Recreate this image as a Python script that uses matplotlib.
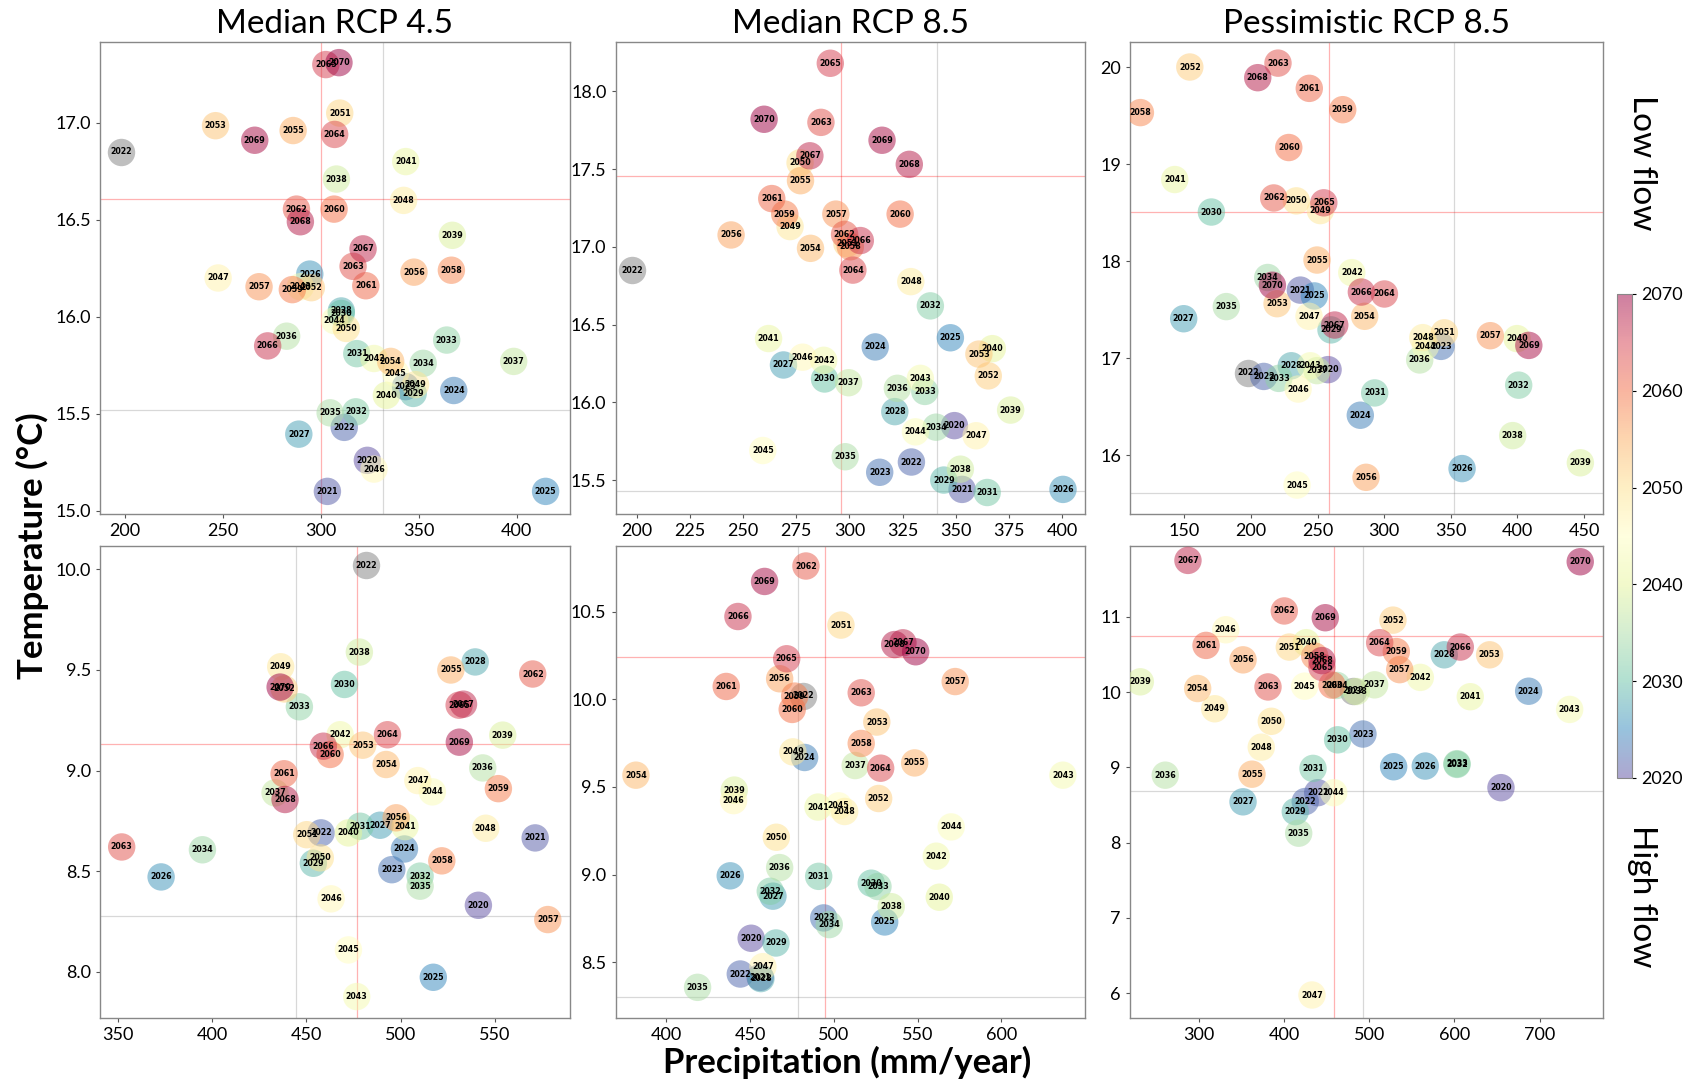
import matplotlib.pyplot as plt
from matplotlib.ticker import MultipleLocator

years = list(range(2020, 2071))

# observed year 2022 (grey point)
obs_low = (198.0, 16.85)
obs_high = (481.5, 10.02)

# ---- Median RCP 4.5, low flow
med45_low_prec = [323.8, 303.4, 312.0, 343.3, 367.9, 414.8, 294.4, 288.8, 310.5, 347.2,
                  310.5, 318.4, 317.9, 364.3, 352.3, 304.8, 282.6, 398.5, 308.0, 367.2,
                  333.5, 343.4, 327.2, 289.6, 307.1, 338.2, 327.2, 247.6, 342.3, 348.4,
                  313.0, 309.7, 295.2, 246.3, 335.7, 285.9, 347.6, 268.5, 366.7, 285.5,
                  306.8, 323.0, 287.6, 316.5, 307.1, 302.6, 272.9, 321.6, 289.6, 266.3, 309.3]
med45_low_temp = [15.26, 15.10, 15.43, 15.64, 15.62, 15.10, 16.22, 15.395, 16.03, 15.605,
                  16.017, 15.81, 15.51, 15.88, 15.76, 15.505, 15.90, 15.77, 16.71, 16.42,
                  15.595, 16.80, 15.785, 16.155, 15.98, 15.71, 15.215, 16.20, 16.60, 15.65,
                  15.94, 17.05, 16.15, 16.985, 15.77, 16.96, 16.23, 16.155, 16.24, 16.14,
                  16.555, 16.16, 16.555, 16.26, 16.94, 17.30, 15.85, 16.35, 16.49, 16.91, 17.31]

# ---- Median RCP 8.5, low flow
med85_low_prec = [349.3, 352.9, 329.1, 314.2, 312.1, 347.4, 400.3, 269.0, 321.3, 344.3,
                  288.3, 364.7, 338.0, 335.4, 340.7, 298.0, 322.5, 299.6, 352.1, 375.7,
                  367.1, 262.0, 287.9, 333.3, 331.0, 259.3, 278.0, 359.5, 328.8, 272.1,
                  276.8, 298.8, 365.2, 360.8, 281.7, 277.0, 244.4, 293.6, 300.4, 269.6,
                  323.8, 263.5, 297.7, 286.6, 301.6, 291.0, 305.1, 281.4, 328.1, 315.3, 259.9]
med85_low_temp = [15.85, 15.44, 15.616, 15.55, 16.356, 16.415, 15.44, 16.24, 15.94, 15.50,
                  16.15, 15.42, 16.62, 16.07, 15.84, 15.65, 16.09, 16.126, 15.57, 15.95,
                  16.345, 16.41, 16.27, 16.154, 15.81, 15.69, 16.29, 15.785, 16.776, 17.13,
                  17.54, 17.02, 16.17, 16.31, 16.99, 17.425, 17.076, 17.21, 17.00, 17.21,
                  17.21, 17.31, 17.08, 17.80, 16.85, 18.18, 17.04, 17.585, 17.53, 17.685, 17.82]

# ---- Pessimistic RCP 8.5, low flow
pes85_low_prec = [257.9, 237.1, 209.6, 342.7, 282.1, 247.6, 358.5, 149.5, 230.3, 260.1,
                  170.3, 292.9, 401.0, 220.9, 212.6, 181.5, 326.7, 249.6, 396.5, 447.3,
                  399.8, 142.8, 275.7, 244.6, 331.0, 234.6, 235.4, 243.6, 329.0, 252.1,
                  234.1, 345.2, 154.1, 219.6, 285.4, 249.6, 286.4, 379.7, 117.0, 268.9,
                  228.4, 243.8, 217.1, 220.3, 300.2, 254.7, 282.9, 262.9, 205.1, 408.6, 216.1]
pes85_low_temp = [16.88, 17.70, 16.81, 17.12, 16.41, 17.64, 15.86, 17.405, 16.92, 17.29,
                  18.505, 16.64, 16.72, 16.79, 17.83, 17.53, 16.98, 16.87, 16.20, 15.92,
                  17.20, 18.84, 17.88, 16.92, 17.12, 15.69, 16.68, 17.43, 17.21, 18.52,
                  18.62, 17.26, 20.00, 17.56, 17.43, 18.01, 15.77, 17.23, 19.53, 19.56,
                  19.17, 19.78, 18.65, 20.04, 17.66, 18.60, 17.68, 17.34, 19.89, 17.13, 17.75]

# ---- Median RCP 4.5, high flow
med45_high_prec = [541.2, 571.3, 457.8, 495.3, 502.0, 517.3, 373.0, 489.1, 539.5, 453.7,
                   470.2, 478.5, 510.3, 446.3, 394.9, 510.3, 543.5, 433.4, 478.1, 554.1,
                   472.3, 502.3, 467.9, 476.7, 516.8, 472.3, 463.1, 509.1, 545.1, 436.4,
                   457.4, 450.2, 438.3, 479.9, 492.3, 526.6, 497.6, 578.0, 521.8, 551.8,
                   462.6, 438.2, 570.0, 352.1, 493.0, 531.0, 459.0, 533.3, 438.7, 531.1, 436.1]
med45_high_temp = [8.33, 8.665, 8.69, 8.507, 8.61, 7.972, 8.471, 8.728, 9.54, 8.539,
                   9.428, 8.723, 8.475, 9.317, 8.606, 8.425, 9.013, 8.889, 9.589, 9.176,
                   8.69, 8.721, 9.178, 7.876, 8.894, 8.108, 8.362, 8.95, 8.713, 9.516,
                   8.566, 8.681, 9.406, 9.126, 9.03, 9.50, 8.765, 8.259, 8.551, 8.91,
                   9.08, 8.984, 9.48, 8.62, 9.178, 9.325, 9.121, 9.33, 8.856, 9.141, 9.415]

# ---- Median RCP 8.5, high flow
med85_high_prec = [450.7, 456.1, 444.2, 494.0, 482.6, 530.4, 438.2, 463.7, 456.5, 465.5,
                   522.4, 491.0, 462.1, 526.4, 497.3, 418.7, 467.7, 512.8, 534.3, 440.6,
                   563.0, 490.6, 561.2, 636.8, 570.1, 502.9, 440.2, 457.7, 506.5, 475.6,
                   465.7, 504.3, 526.8, 525.7, 381.9, 548.3, 467.7, 572.5, 516.4, 476.7,
                   475.2, 435.8, 483.4, 516.4, 528.0, 471.9, 442.8, 541.3, 536.4, 458.7, 548.9]
med85_high_temp = [8.637, 8.414, 8.433, 8.753, 9.668, 8.73, 8.993, 8.877, 8.407, 8.61,
                   8.951, 8.99, 8.905, 8.932, 8.715, 8.357, 9.04, 9.622, 8.817, 9.482,
                   8.871, 9.385, 9.105, 9.567, 9.272, 9.392, 9.422, 8.475, 9.36, 9.70,
                   9.213, 10.423, 9.434, 9.87, 9.567, 9.637, 10.117, 10.101, 9.748, 10.018,
                   9.942, 10.073, 10.76, 10.037, 9.607, 10.231, 10.472, 10.322, 10.312, 10.672, 10.271]

# ---- Pessimistic RCP 8.5, high flow
pes85_high_prec = [654.6, 439.6, 425.0, 492.7, 687.1, 528.7, 565.8, 352.0, 588.1, 413.3,
                   463.0, 434.1, 603.0, 603.0, 462.0, 417.3, 260.8, 506.4, 484.9, 231.5,
                   426.2, 618.6, 560.0, 735.2, 458.4, 424.3, 331.7, 432.9, 373.4, 318.8,
                   385.2, 406.3, 527.9, 641.3, 298.8, 362.5, 352.0, 535.8, 436.1, 531.8,
                   456.4, 308.6, 400.4, 381.3, 512.3, 444.6, 606.9, 287.4, 444.6, 448.5, 747.6]
pes85_high_temp = [8.731, 8.664, 8.547, 9.444, 10.013, 9.009, 9.018, 8.543, 10.497, 8.413,
                   9.367, 8.987, 9.04, 9.05, 10.09, 8.126, 8.897, 10.098, 10.009, 10.138,
                   10.658, 9.94, 10.197, 9.771, 8.664, 10.08, 10.83, 5.975, 9.269, 9.78,
                   9.613, 10.60, 10.958, 10.497, 10.049, 8.91, 10.43, 10.30, 10.48, 10.54,
                   10.094, 10.622, 11.08, 10.07, 10.658, 10.33, 10.60, 11.752, 10.42, 10.99, 11.734]

# mean lines: (red vertical, grey vertical, red horizontal, grey horizontal)
lines = [
    (300.3, 331.8, 16.605, 15.518),
    (295.9, 341.3, 17.457, 15.43),
    (258.6, 352.7, 18.508, 15.605),
    (477.0, 444.4, 9.134, 8.279),
    (494.9, 478.4, 10.241, 8.302),
    (459.1, 492.7, 10.749, 8.686),
]

titles = ['Median RCP 4.5', 'Median RCP 8.5', 'Pessimistic RCP 8.5']

panels = [
    (med45_low_prec, med45_low_temp, obs_low, (187.3, 427.0), (14.986, 17.419), 50, 0.5),
    (med85_low_prec, med85_low_temp, obs_low, (190.1, 410.4), (15.285, 18.32), 25, 0.5),
    (pes85_low_prec, pes85_low_temp, obs_low, (109.2, 464.3), (15.397, 20.263), 50, 1),
    (med45_high_prec, med45_high_temp, obs_high, (340.6, 589.5), (7.772, 10.119), 50, 0.5),
    (med85_high_prec, med85_high_temp, obs_high, (369.7, 649.7), (8.185, 10.877), 50, 0.5),
    (pes85_high_prec, pes85_high_temp, obs_high, (219.4, 774.3), (5.676, 11.95), 100, 1),
]

lefts = [100 / 1695, 615.5 / 1695, 1130 / 1695]
widths = [469.5 / 1695, 469 / 1695, 473 / 1695]
bottoms = [1 - 513.5 / 1083, 1 - 1017.5 / 1083]
height = 472 / 1083

fig = plt.figure(figsize=(16.95, 10.83), dpi=100)
txt_font = 'Lato'
msize = 390
lab_size = 5.7

for i, (prec, temp, obs, xl, yl, xstep, ystep) in enumerate(panels):
    row, col = divmod(i, 3)
    ax = fig.add_axes([lefts[col], bottoms[row], widths[col], height])
    rv, gv, rh, gh = lines[i]
    ax.axvline(rv, color='red', lw=0.9, alpha=0.3, zorder=1)
    ax.axvline(gv, color='gray', lw=0.9, alpha=0.3, zorder=1)
    ax.axhline(rh, color='red', lw=0.9, alpha=0.3, zorder=1)
    ax.axhline(gh, color='gray', lw=0.9, alpha=0.3, zorder=1)

    ax.scatter([obs[0]], [obs[1]], s=msize, color='gray', alpha=0.5, linewidths=0, zorder=2)
    ax.text(obs[0], obs[1], '2022', ha='center', va='center', fontsize=lab_size,
            fontweight='bold', zorder=4)
    sc = ax.scatter(prec, temp, c=years, cmap='Spectral_r', vmin=2020, vmax=2070,
                    s=msize, alpha=0.5, linewidths=0, zorder=3)
    for yr, x, y in zip(years, prec, temp):
        ax.text(x, y, str(yr), ha='center', va='center', fontsize=lab_size,
                fontweight='bold', zorder=4)

    ax.set_xlim(*xl)
    ax.set_ylim(*yl)
    ax.xaxis.set_major_locator(MultipleLocator(xstep))
    ax.yaxis.set_major_locator(MultipleLocator(ystep))
    ax.tick_params(labelsize=13, length=3, color='#555555')
    for lab in ax.get_xticklabels() + ax.get_yticklabels():
        lab.set_family(txt_font)
    for sp in ax.spines.values():
        sp.set_color('#888888')
        sp.set_linewidth(1.0)
    if row == 0:
        ax.set_title(titles[col], fontsize=24, family=txt_font, pad=6)

cax = fig.add_axes([1617 / 1695, 1 - 778 / 1083, 15 / 1695, 484 / 1083])
cb = fig.colorbar(sc, cax=cax, ticks=[2020, 2030, 2040, 2050, 2060, 2070])
cb.ax.tick_params(labelsize=13, length=3)
for lab in cb.ax.get_yticklabels():
    lab.set_family(txt_font)
cb.outline.set_edgecolor('#888888')

fig.text(0.019, 0.496, 'Temperature (°C)', rotation=90, ha='center', va='center',
         fontsize=25, fontweight='bold', family=txt_font)
fig.text(0.5, 0.019, 'Precipitation (mm/year)', ha='center', va='center',
         fontsize=25, fontweight='bold', family=txt_font)
fig.text(0.969, 0.850, 'Low flow', rotation=270, ha='center', va='center',
         fontsize=24, family=txt_font)
fig.text(0.969, 0.172, 'High flow', rotation=270, ha='center', va='center',
         fontsize=24, family=txt_font)

fig.savefig('out.png', dpi=100)
